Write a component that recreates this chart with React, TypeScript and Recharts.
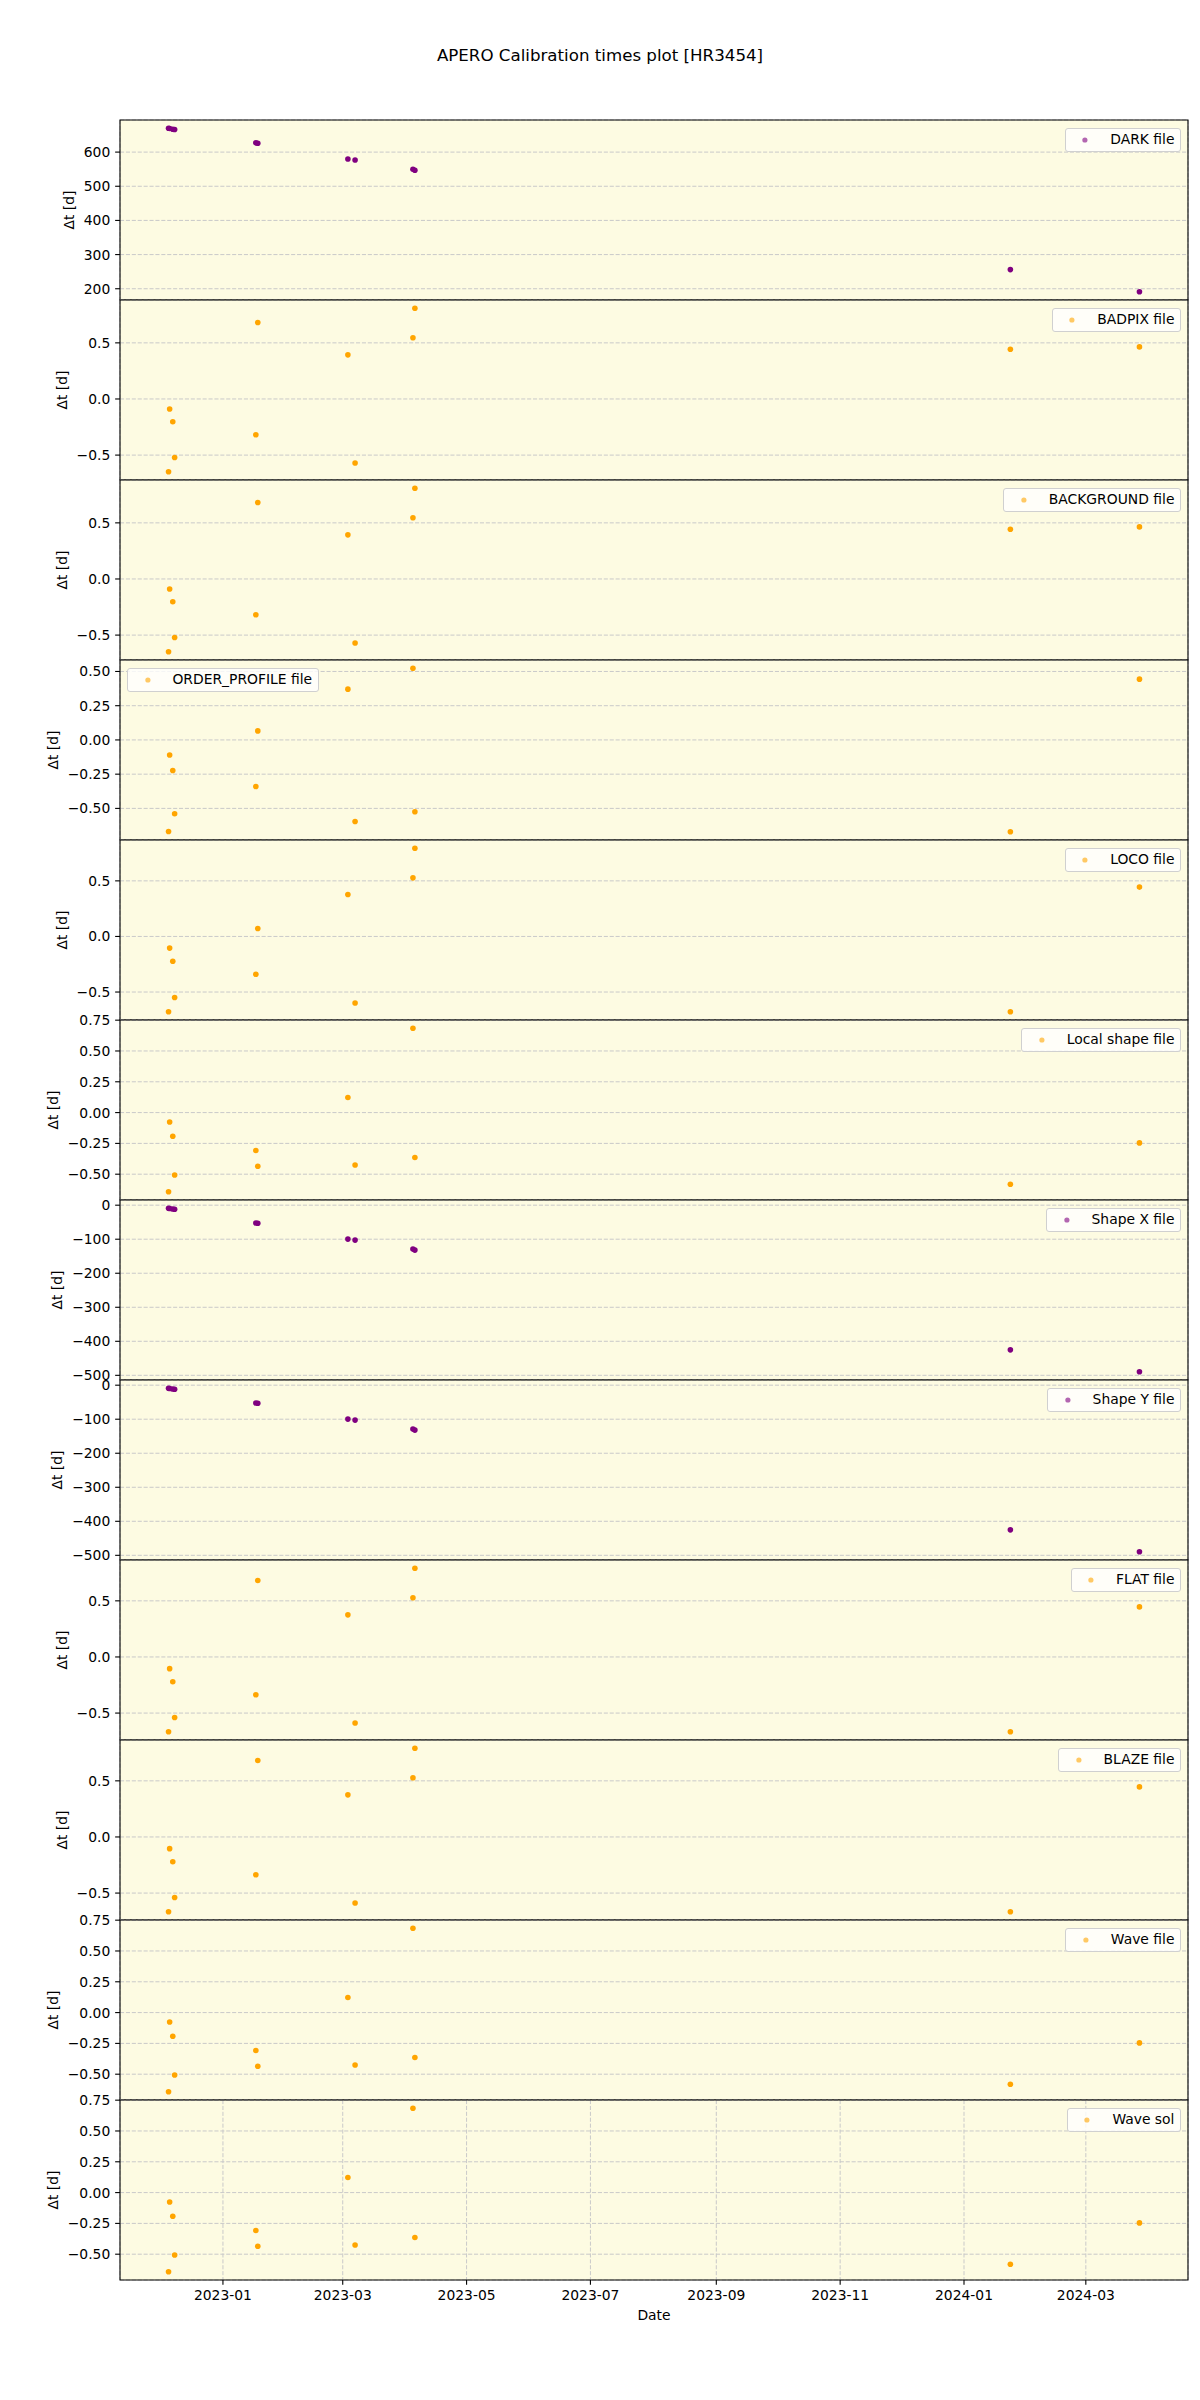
import React from 'react';
import { ScatterChart, Scatter, XAxis, YAxis, CartesianGrid, ReferenceArea, Legend } from 'recharts';

// ---------- data ----------
const DATES = [
  '2022-12-05T05:00Z', '2022-12-05T18:00Z', '2022-12-07T07:00Z', '2022-12-08T05:00Z',
  '2023-01-17T05:00Z', '2023-01-18T04:00Z', '2023-03-03T13:00Z', '2023-03-07T02:00Z',
  '2023-04-04T14:00Z', '2023-04-05T13:00Z', '2024-01-23T20:00Z', '2024-03-27T10:00Z',
];

const X_TICK_LABELS = ['2023-01', '2023-03', '2023-05', '2023-07', '2023-09', '2023-11', '2024-01', '2024-03'];

const DARK = [670, 669, 667, 666, 627, 626, 580, 577, 550, 547, 256, 191];
const BADPIX = [-0.649, -0.089, -0.203, -0.521, -0.319, 0.681, 0.393, -0.571, 0.545, 0.809, 0.443, 0.464];
const BACKGROUND = [-0.649, -0.089, -0.203, -0.521, -0.319, 0.681, 0.393, -0.571, 0.545, 0.809, 0.443, 0.464];
const ORDER_PROFILE = [-0.669, -0.11, -0.223, -0.539, -0.34, 0.066, 0.371, -0.596, 0.524, -0.524, -0.671, 0.444];
const LOCO = [-0.678, -0.105, -0.223, -0.549, -0.34, 0.072, 0.378, -0.599, 0.527, 0.794, -0.678, 0.444];
const LOCAL_SHAPE = [-0.643, -0.076, -0.192, -0.506, -0.308, -0.435, 0.122, -0.425, 0.685, -0.365, -0.582, -0.246];
const SHAPE_X = [-8.8, -9.6, -11.2, -12.0, -52.5, -53.2, -99.7, -102.6, -129.0, -132.0, -425.2, -489.7];
const SHAPE_Y = [-8.8, -9.6, -11.2, -12.0, -52.5, -53.2, -99.7, -102.6, -129.0, -132.0, -425.2, -489.7];
const FLAT = [-0.667, -0.104, -0.221, -0.539, -0.337, 0.681, 0.375, -0.589, 0.527, 0.791, -0.667, 0.446];
const BLAZE = [-0.667, -0.104, -0.221, -0.539, -0.337, 0.681, 0.375, -0.589, 0.527, 0.791, -0.667, 0.446];
const WAVE_FILE = [-0.643, -0.076, -0.192, -0.506, -0.308, -0.435, 0.122, -0.425, 0.685, -0.365, -0.582, -0.246];
const WAVE_SOL = [-0.643, -0.076, -0.192, -0.506, -0.308, -0.435, 0.122, -0.425, 0.685, -0.365, -0.582, -0.246];

const TICKS_BIG = [200, 300, 400, 500, 600];
const TICKS_HALF = [-0.5, 0, 0.5];
const TICKS_QUARTER = [-0.5, -0.25, 0, 0.25, 0.5];
const TICKS_QUARTER75 = [-0.5, -0.25, 0, 0.25, 0.5, 0.75];
const TICKS_SHAPE = [-500, -400, -300, -200, -100, 0];

const PURPLE = '#800080';
const ORANGE = '#FFA500';

const PANELS = [
  { name: 'DARK file', values: DARK, color: PURPLE, ticks: TICKS_BIG, dec: 0, loc: 'right' },
  { name: 'BADPIX file', values: BADPIX, color: ORANGE, ticks: TICKS_HALF, dec: 1, loc: 'right' },
  { name: 'BACKGROUND file', values: BACKGROUND, color: ORANGE, ticks: TICKS_HALF, dec: 1, loc: 'right' },
  { name: 'ORDER_PROFILE file', values: ORDER_PROFILE, color: ORANGE, ticks: TICKS_QUARTER, dec: 2, loc: 'left' },
  { name: 'LOCO file', values: LOCO, color: ORANGE, ticks: TICKS_HALF, dec: 1, loc: 'right' },
  { name: 'Local shape file', values: LOCAL_SHAPE, color: ORANGE, ticks: TICKS_QUARTER75, dec: 2, loc: 'right' },
  { name: 'Shape X file', values: SHAPE_X, color: PURPLE, ticks: TICKS_SHAPE, dec: 0, loc: 'right' },
  { name: 'Shape Y file', values: SHAPE_Y, color: PURPLE, ticks: TICKS_SHAPE, dec: 0, loc: 'right' },
  { name: 'FLAT file', values: FLAT, color: ORANGE, ticks: TICKS_HALF, dec: 1, loc: 'right' },
  { name: 'BLAZE file', values: BLAZE, color: ORANGE, ticks: TICKS_HALF, dec: 1, loc: 'right' },
  { name: 'Wave file', values: WAVE_FILE, color: ORANGE, ticks: TICKS_QUARTER75, dec: 2, loc: 'right' },
  { name: 'Wave sol', values: WAVE_SOL, color: ORANGE, ticks: TICKS_QUARTER75, dec: 2, loc: 'right' },
];

// ---------- layout / style ----------
const FONT = '"DejaVu Sans", sans-serif';
const FS = 13.89;
const TITLE_FS = 16.67;
const TICK_LEN = 4.86;
const PLOT_TOP = 120;
const PANEL_H = 180;
const MT = 10;
const MB = 10;
const XAX_H = 40;
const Y_AXIS_W = 120;
const RIGHT_M = 12;
const BG = '#FDFBE2';
const GRID = '#c9c9c9';

const X_VALUES = DATES.map((d) => Date.parse(d));
const X_MIN = Math.min(...X_VALUES);
const X_MAX = Math.max(...X_VALUES);
const X_PAD = (X_MAX - X_MIN) * 0.05;
const X_DOMAIN: [number, number] = [X_MIN - X_PAD, X_MAX + X_PAD];
const X_TICKS = X_TICK_LABELS.map((s) => Date.parse(s + '-01T00:00Z'));

const fmtDate = (v: number) => {
  const d = new Date(v);
  return `${d.getUTCFullYear()}-${String(d.getUTCMonth() + 1).padStart(2, '0')}`;
};

const makeFmt = (dec: number) => (v: number) =>
  (v < -1e-12 ? '\u2212' : '') + Math.abs(v).toFixed(dec);

const CHAR_W: Record<string, number> = {
  '0': 0.636, '1': 0.636, '2': 0.636, '3': 0.636, '4': 0.636, '5': 0.636,
  '6': 0.636, '7': 0.636, '8': 0.636, '9': 0.636, '.': 0.318, '\u2212': 0.838,
};
const textWidth = (s: string) => s.split('').reduce((a, c) => a + (CHAR_W[c] ?? 0.6), 0) * FS;

function LegendBox({ name, color }: { name: string; color: string }) {
  return (
    <div
      style={{
        boxSizing: 'border-box',
        display: 'flex',
        alignItems: 'center',
        height: 24.6,
        padding: '0 5.56px',
        background: 'rgba(255,255,255,0.8)',
        border: '1px solid #d0d0d0',
        borderRadius: 3,
        fontFamily: FONT,
        fontSize: FS,
        color: '#000',
        whiteSpace: 'nowrap',
      }}
    >
      <svg width={27.8} height={10} style={{ display: 'block' }}>
        <circle cx={13.9} cy={5} r={2.6} fill={color} fillOpacity={0.6} />
      </svg>
      <span style={{ marginLeft: 11.1, lineHeight: 1 }}>{name}</span>
    </div>
  );
}

function Panel({ cfg, index, last }: { cfg: (typeof PANELS)[number]; index: number; last: boolean }) {
  const data = DATES.map((d, i) => ({ x: Date.parse(d), y: cfg.values[i] }));
  const vmin = Math.min(...cfg.values);
  const vmax = Math.max(...cfg.values);
  const pad = (vmax - vmin) * 0.05;
  const yDomain: [number, number] = [vmin - pad, vmax + pad];
  const fmt = makeFmt(cfg.dec);
  const maxW = Math.max(...cfg.ticks.map((t) => textWidth(fmt(t))));
  const labelX = Y_AXIS_W - 2 * TICK_LEN - maxW - 15;
  const labelY = MT + PANEL_H / 2;
  const height = MT + PANEL_H + (last ? XAX_H : 0) + MB;

  const legendStyle: React.CSSProperties =
    cfg.loc === 'left'
      ? { top: MT + 7.5, left: Y_AXIS_W + 7, right: 'auto', bottom: 'auto', width: 'auto', height: 'auto' }
      : { top: MT + 7.5, right: RIGHT_M + 7, left: 'auto', bottom: 'auto', width: 'auto', height: 'auto' };

  const tickStyle = { fontSize: FS, fill: '#000', fontFamily: FONT };

  return (
    <div style={{ position: 'absolute', left: 0, top: PLOT_TOP + index * PANEL_H - MT }}>
      <ScatterChart width={1200} height={height} margin={{ top: MT, right: RIGHT_M, bottom: MB, left: 0 }}>
        <CartesianGrid stroke={GRID} strokeWidth={1} strokeDasharray="4.1 1.8" fill={BG} fillOpacity={1} />
        <XAxis
          dataKey="x"
          type="number"
          domain={X_DOMAIN}
          allowDataOverflow
          ticks={X_TICKS}
          interval={0}
          tickFormatter={fmtDate}
          height={last ? XAX_H : 0}
          tick={last ? tickStyle : false}
          tickLine={last ? { stroke: '#000', strokeWidth: 1.1 } : false}
          axisLine={false}
          tickSize={TICK_LEN}
          tickMargin={TICK_LEN}
          label={
            last
              ? {
                  content: (p: any) => {
                    const vb = p && p.viewBox ? p.viewBox : { x: Y_AXIS_W, y: MT + PANEL_H, width: 1068 };
                    return (
                      <text
                        x={vb.x + vb.width / 2}
                        y={vb.y + 35.3}
                        textAnchor="middle"
                        dominantBaseline="central"
                        fontFamily={FONT}
                        fontSize={FS}
                        fill="#000"
                      >
                        Date
                      </text>
                    );
                  },
                }
              : undefined
          }
        />
        <YAxis
          dataKey="y"
          type="number"
          domain={yDomain}
          allowDataOverflow
          ticks={cfg.ticks}
          interval={0}
          width={Y_AXIS_W}
          tickFormatter={fmt}
          tick={tickStyle}
          tickLine={{ stroke: '#000', strokeWidth: 1.1 }}
          axisLine={false}
          tickSize={TICK_LEN}
          tickMargin={TICK_LEN}
          label={{
            content: () => (
              <text
                x={labelX}
                y={labelY}
                transform={`rotate(-90 ${labelX} ${labelY})`}
                textAnchor="middle"
                dominantBaseline="central"
                fontFamily={FONT}
                fontSize={FS}
                fill="#000"
              >
                Δt [d]
              </text>
            ),
          }}
        />
        <ReferenceArea
          x1={X_DOMAIN[0]}
          x2={X_DOMAIN[1]}
          y1={yDomain[0]}
          y2={yDomain[1]}
          fill="none"
          fillOpacity={0}
          stroke="#000"
          strokeWidth={1.1}
          ifOverflow="visible"
        />
        <Scatter
          name={cfg.name}
          data={data}
          fill={cfg.color}
          isAnimationActive={false}
          shape={(p: any) => <circle cx={p.cx} cy={p.cy} r={2.8} fill={cfg.color} />}
        />
        <Legend
          layout="horizontal"
          verticalAlign="middle"
          align="center"
          wrapperStyle={legendStyle}
          content={() => <LegendBox name={cfg.name} color={cfg.color} />}
        />
      </ScatterChart>
    </div>
  );
}

export default function App() {
  return (
    <div style={{ position: 'absolute', left: 0, top: 0, width: 1200, height: 2400, background: '#fff' }}>
      <svg width={1200} height={100} style={{ position: 'absolute', left: 0, top: 0 }}>
        <text x={600} y={55} textAnchor="middle" dominantBaseline="central" fontFamily={FONT} fontSize={TITLE_FS} fill="#000">
          APERO Calibration times plot [HR3454]
        </text>
      </svg>
      {PANELS.map((cfg, i) => (
        <Panel key={cfg.name} cfg={cfg} index={i} last={i === PANELS.length - 1} />
      ))}
    </div>
  );
}
